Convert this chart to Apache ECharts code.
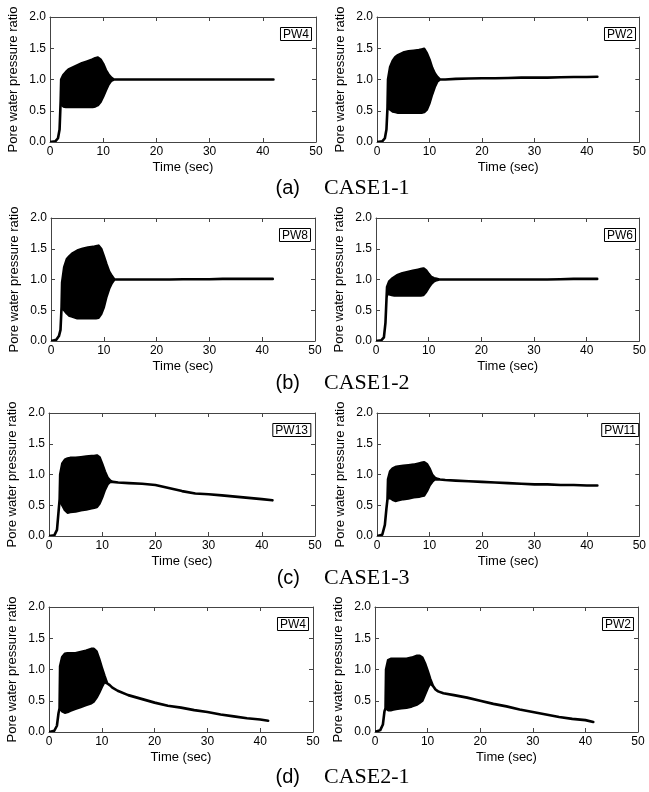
<!DOCTYPE html>
<html><head><meta charset="utf-8">
<script src="https://cdn.jsdelivr.net/npm/echarts@6/dist/echarts.min.js"></script>
<style>html,body{margin:0;padding:0;background:#fff}#c{width:649px;height:792px}</style>
</head><body><div id="c"></div>
<script>
// time samples (sec)
const timeCase1 = [0, 1.0, 1.5, 1.8, 2.0, 2.1, 2.5, 3, 3.5, 4, 5, 6, 7, 8, 8.5, 9, 9.5, 10, 10.5, 11, 11.5, 12, 13, 15, 17.5, 20, 22.5, 25, 27.5, 30, 32.5, 35, 37.5, 40, 42];
const timeCase2 = [0, 1.0, 1.5, 1.8, 2.0, 2.1, 2.5, 3, 3.5, 4, 5, 6, 7, 8, 8.5, 9, 9.5, 10, 10.5, 11, 11.5, 12, 13, 15, 17.5, 20, 22.5, 25, 27.5, 30, 32.5, 35, 37.5, 40, 41.5];

// lower / upper envelopes of the pore water pressure ratio
const case11_PW4_low  = [0, 0.01, 0.06, 0.2, 0.65, 0.62, 0.57, 0.56, 0.56, 0.56, 0.56, 0.56, 0.56, 0.56, 0.57, 0.59, 0.64, 0.73, 0.83, 0.92, 0.98, 1.0, 1.0, 1.0, 1.0, 1.0, 1.0, 1.0, 1.0, 1.0, 1.0, 1.0, 1.0, 1.0, 1.0];
const case11_PW4_high = [0, 0.01, 0.06, 0.2, 0.65, 1.0, 1.07, 1.12, 1.16, 1.18, 1.22, 1.26, 1.29, 1.32, 1.34, 1.35, 1.32, 1.25, 1.15, 1.08, 1.03, 1.0, 1.0, 1.0, 1.0, 1.0, 1.0, 1.0, 1.0, 1.0, 1.0, 1.0, 1.0, 1.0, 1.0];

const case11_PW2_low  = [0, 0.01, 0.06, 0.2, 0.55, 0.55, 0.52, 0.49, 0.48, 0.47, 0.47, 0.47, 0.47, 0.47, 0.47, 0.48, 0.52, 0.62, 0.76, 0.88, 0.97, 1.0, 1.0, 1.01, 1.015, 1.02, 1.02, 1.025, 1.03, 1.03, 1.03, 1.035, 1.04, 1.04, 1.045];
const case11_PW2_high = [0, 0.01, 0.06, 0.2, 0.55, 1.0, 1.2, 1.3, 1.36, 1.39, 1.43, 1.45, 1.46, 1.47, 1.48, 1.49, 1.42, 1.32, 1.19, 1.1, 1.04, 1.0, 1.0, 1.01, 1.015, 1.02, 1.02, 1.025, 1.03, 1.03, 1.03, 1.035, 1.04, 1.04, 1.045];

const case12_PW8_low  = [0, 0.02, 0.08, 0.18, 0.55, 0.55, 0.5, 0.45, 0.41, 0.4, 0.37, 0.37, 0.37, 0.37, 0.37, 0.38, 0.44, 0.55, 0.72, 0.85, 0.94, 1.0, 1.0, 1.0, 1.0, 1.0, 1.0, 1.005, 1.005, 1.005, 1.01, 1.01, 1.01, 1.01, 1.01];
const case12_PW8_high = [0, 0.02, 0.08, 0.18, 0.55, 0.95, 1.2, 1.33, 1.38, 1.42, 1.47, 1.5, 1.52, 1.53, 1.54, 1.55, 1.5, 1.38, 1.25, 1.13, 1.06, 1.0, 1.0, 1.0, 1.0, 1.0, 1.0, 1.005, 1.005, 1.005, 1.01, 1.01, 1.01, 1.01, 1.01];

const case12_PW6_low  = [0, 0.01, 0.06, 0.3, 0.7, 0.77, 0.76, 0.75, 0.74, 0.74, 0.74, 0.74, 0.74, 0.74, 0.74, 0.75, 0.8, 0.87, 0.93, 0.97, 0.99, 1.0, 1.0, 1.0, 1.0, 1.0, 1.0, 1.0, 1.0, 1.0, 1.0, 1.005, 1.01, 1.01, 1.01];
const case12_PW6_high = [0, 0.01, 0.06, 0.3, 0.7, 0.88, 0.97, 1.01, 1.04, 1.07, 1.1, 1.12, 1.14, 1.16, 1.17, 1.18, 1.15, 1.09, 1.04, 1.02, 1.01, 1.0, 1.0, 1.0, 1.0, 1.0, 1.0, 1.0, 1.0, 1.0, 1.0, 1.005, 1.01, 1.01, 1.01];

const case13_PW13_low  = [0, 0.01, 0.1, 0.4, 0.6, 0.6, 0.5, 0.42, 0.38, 0.39, 0.4, 0.42, 0.43, 0.45, 0.46, 0.47, 0.53, 0.63, 0.75, 0.84, 0.88, 0.88, 0.87, 0.86, 0.85, 0.83, 0.78, 0.73, 0.69, 0.68, 0.66, 0.64, 0.62, 0.6, 0.58];
const case13_PW13_high = [0, 0.01, 0.1, 0.4, 0.6, 1.0, 1.18, 1.24, 1.26, 1.27, 1.27, 1.28, 1.29, 1.3, 1.3, 1.31, 1.28, 1.17, 1.05, 0.95, 0.9, 0.88, 0.87, 0.86, 0.85, 0.83, 0.78, 0.73, 0.69, 0.68, 0.66, 0.64, 0.62, 0.6, 0.58];

const case13_PW11_low  = [0, 0.02, 0.18, 0.45, 0.6, 0.61, 0.62, 0.59, 0.57, 0.58, 0.6, 0.61, 0.63, 0.64, 0.65, 0.66, 0.73, 0.82, 0.88, 0.92, 0.92, 0.92, 0.91, 0.9, 0.89, 0.88, 0.87, 0.86, 0.85, 0.84, 0.84, 0.83, 0.83, 0.82, 0.82];
const case13_PW11_high = [0, 0.02, 0.18, 0.45, 0.6, 0.92, 1.05, 1.1, 1.12, 1.13, 1.14, 1.15, 1.16, 1.18, 1.19, 1.2, 1.17, 1.1, 1.0, 0.95, 0.93, 0.92, 0.91, 0.9, 0.89, 0.88, 0.87, 0.86, 0.85, 0.84, 0.84, 0.83, 0.83, 0.82, 0.82];

const case21_PW4_low  = [0, 0.02, 0.1, 0.3, 0.38, 0.38, 0.33, 0.31, 0.32, 0.34, 0.37, 0.4, 0.43, 0.46, 0.49, 0.55, 0.63, 0.72, 0.8, 0.78, 0.75, 0.71, 0.66, 0.59, 0.53, 0.47, 0.42, 0.39, 0.35, 0.32, 0.28, 0.25, 0.22, 0.2, 0.18];
const case21_PW4_high = [0, 0.02, 0.1, 0.3, 0.38, 1.05, 1.2, 1.25, 1.26, 1.26, 1.26, 1.28, 1.3, 1.33, 1.33, 1.29, 1.17, 1.03, 0.9, 0.78, 0.75, 0.71, 0.66, 0.59, 0.53, 0.47, 0.42, 0.39, 0.35, 0.32, 0.28, 0.25, 0.22, 0.2, 0.18];

const case21_PW2_low  = [0, 0.03, 0.12, 0.33, 0.38, 0.38, 0.35, 0.35, 0.36, 0.37, 0.38, 0.39, 0.41, 0.44, 0.47, 0.5, 0.6, 0.7, 0.78, 0.74, 0.68, 0.65, 0.62, 0.59, 0.55, 0.5, 0.45, 0.41, 0.36, 0.32, 0.28, 0.24, 0.21, 0.19, 0.16];
const case21_PW2_high = [0, 0.03, 0.12, 0.33, 0.38, 1.0, 1.15, 1.17, 1.17, 1.17, 1.17, 1.17, 1.19, 1.22, 1.22, 1.19, 1.1, 0.98, 0.85, 0.74, 0.68, 0.65, 0.62, 0.59, 0.55, 0.5, 0.45, 0.41, 0.36, 0.32, 0.28, 0.24, 0.21, 0.19, 0.16];

// texts
const gaugeNames = ['PW4', 'PW2', 'PW8', 'PW6', 'PW13', 'PW11', 'PW4', 'PW2'];
const captionLetters = ['(a)', '(b)', '(c)', '(d)'];
const captionCases = ['CASE1-1', 'CASE1-2', 'CASE1-3', 'CASE2-1'];
const xTickLabels = ['0', '10', '20', '30', '40', '50'];
const yTickLabels = ['0.0', '0.5', '1.0', '1.5', '2.0'];
const xAxisTitle = 'Time (sec)';
const yAxisTitle = 'Pore water pressure ratio';

const panels = [
  [timeCase1, case11_PW4_low, case11_PW4_high],
  [timeCase1, case11_PW2_low, case11_PW2_high],
  [timeCase1, case12_PW8_low, case12_PW8_high],
  [timeCase1, case12_PW6_low, case12_PW6_high],
  [timeCase1, case13_PW13_low, case13_PW13_high],
  [timeCase1, case13_PW11_low, case13_PW11_high],
  [timeCase2, case21_PW4_low, case21_PW4_high],
  [timeCase2, case21_PW2_low, case21_PW2_high]
];

// layout (px)
const gridBoxes = [
  [50, 17, 266, 125], [377, 17, 263, 125],
  [51, 218, 264, 123], [376, 218, 264, 123],
  [49, 413, 266, 123], [377, 413, 266, 123],
  [49, 607, 264, 125], [375, 607, 263, 125]
];
const captionY = [188, 383, 578, 777];

const SANS = 'Liberation Sans, Arial, sans-serif';
const SERIF = 'Liberation Serif, Times New Roman, serif';
const axisColor = '#444';

function bandRender(params, api) {
  if (params.dataIndexInside !== 0) return null;
  const n = params.dataInsideLength;
  const pts = [];
  for (let j = 0; j < n; j++) pts.push(api.coord([api.value(0, j), api.value(1, j)]));
  for (let j = n - 1; j >= 0; j--) pts.push(api.coord([api.value(0, j), api.value(2, j)]));
  return {
    type: 'polygon', silent: true,
    shape: { points: pts },
    style: { fill: '#000', stroke: '#000', lineWidth: 2.6, lineJoin: 'round' }
  };
}

const grid = [], xAxis = [], yAxis = [], series = [], title = [];
gridBoxes.forEach((g, i) => {
  grid.push({ left: g[0], top: g[1], width: g[2], height: g[3], containLabel: false });
  const line = { show: true, onZero: false, lineStyle: { color: axisColor, width: 1 } };
  const tick = { show: true, inside: true, length: 4, lineStyle: { color: axisColor, width: 1 } };
  xAxis.push({
    gridIndex: i, type: 'value', min: 0, max: 50, interval: 10, position: 'bottom',
    axisLine: line, axisTick: tick, splitLine: { show: false },
    axisLabel: { color: '#000', fontSize: 12, fontFamily: SANS, margin: 4,
      formatter: v => xTickLabels[Math.round(v / 10)] },
    name: xAxisTitle, nameLocation: 'middle', nameGap: 19,
    nameTextStyle: { color: '#000', fontSize: 13, fontFamily: SANS }
  });
  xAxis.push({
    gridIndex: i, type: 'value', min: 0, max: 50, interval: 10, position: 'top',
    axisLine: line, axisTick: tick, splitLine: { show: false }, axisLabel: { show: false }
  });
  yAxis.push({
    gridIndex: i, type: 'value', min: 0, max: 2, interval: 0.5, position: 'left',
    axisLine: line, axisTick: tick, splitLine: { show: false },
    axisLabel: { color: '#000', fontSize: 12, fontFamily: SANS, margin: 4,
      formatter: v => yTickLabels[Math.round(v / 0.5)] },
    name: yAxisTitle, nameLocation: 'middle', nameGap: 30,
    nameTextStyle: { color: '#000', fontSize: 13, fontFamily: SANS }
  });
  yAxis.push({
    gridIndex: i, type: 'value', min: 0, max: 2, interval: 0.5, position: 'right',
    axisLine: line, axisTick: tick, splitLine: { show: false }, axisLabel: { show: false }
  });
  const p = panels[i];
  series.push({
    type: 'custom', xAxisIndex: 2 * i, yAxisIndex: 2 * i,
    renderItem: bandRender, clip: true,
    encode: { x: 0, y: [1, 2] },
    data: p[0].map((t, k) => [t, p[1][k], p[2][k]])
  });
  title.push({
    text: gaugeNames[i], right: 649 - (g[0] + g[2] - 4), top: g[1] + 10,
    borderColor: '#000', borderWidth: 1, padding: [1, 3, 0, 3],
    textStyle: { color: '#000', fontSize: 12, fontWeight: 'normal', fontFamily: SANS, lineHeight: 13 }
  });
});

const graphic = [];
captionY.forEach((y, r) => {
  graphic.push({ type: 'text', x: 300, y: y, silent: true,
    style: { text: captionLetters[r], fill: '#000', font: '20px ' + SANS, align: 'right', verticalAlign: 'middle' } });
  graphic.push({ type: 'text', x: 324, y: y, silent: true,
    style: { text: captionCases[r], fill: '#000', font: '22px ' + SERIF, align: 'left', verticalAlign: 'middle' } });
});

const chart = echarts.init(document.getElementById('c'), null, { renderer: 'canvas' });
chart.setOption({
  animation: false,
  backgroundColor: '#fff',
  title, grid, xAxis, yAxis, series, graphic
});
</script></body></html>
